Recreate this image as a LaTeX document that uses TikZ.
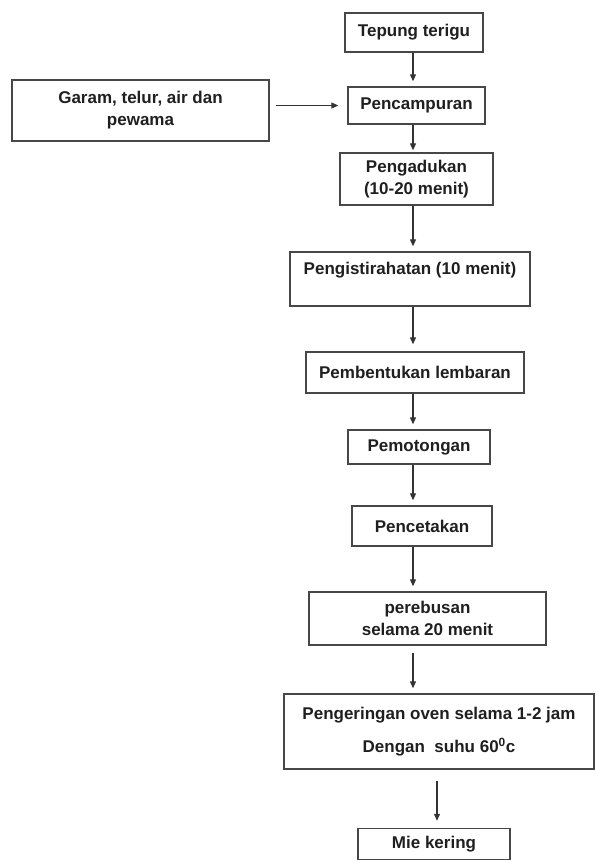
\documentclass[tikz,border=0pt]{standalone}
\usepackage{fontspec}
\setmainfont{Liberation Sans}
\usetikzlibrary{arrows.meta, positioning}

\tikzset{
  box/.style={draw=black!72, line width=1.4pt, align=center, inner sep=0pt,
    font=\fontsize{17}{22}\selectfont\bfseries, text=black!88},
  arr/.style={-{Triangle[length=7pt,width=6pt]}, line width=1.2pt, draw=black!80,
    shorten >=5pt},
}

\begin{document}
\begin{tikzpicture}[x=1pt, y=-1pt]
\useasboundingbox (0,0) rectangle (595,860);
% process boxes
\node[box, minimum width=138, minimum height=39] (tepung) at (414,32.5) {Tepung terigu};
\node[box, minimum width=257, minimum height=61] (garam) at (140.5,110.5) {Garam, telur, air dan\\ pewama};
\node[box, minimum width=137, minimum height=37] (campur) at (416.5,105.5) {Pencampuran};
\node[box, minimum width=153, minimum height=52] (aduk) at (416.5,179) {Pengadukan\\ (10-20 menit)};
\node[box, minimum width=240, minimum height=54] (istirahat) at (410,279) {Pengistirahatan (10 menit)\\ \mbox{}};
\node[box, minimum width=218, minimum height=41] (lembaran) at (415,372.5) {Pembentukan lembaran};
\node[box, minimum width=142, minimum height=34] (potong) at (419,447) {Pemotongan};
\node[box, minimum width=140, minimum height=40] (cetak) at (422,526) {Pencetakan};
\node[box, minimum width=237, minimum height=53] (rebus) at (427.5,618.5) {perebusan\\ selama 20 menit};
\node[box, minimum width=310, minimum height=75] (kering) at (439,731.5) {Pengeringan oven selama 1-2 jam\\[11pt] Dengan\ \ suhu 60\textsuperscript{0}c};
\node[box, minimum width=152, minimum height=31] (mie) at (434,844) {Mie kering};

% arrows
\coordinate (spine) at (413,0);
\coordinate (spineb) at (437,0);
\draw[arr, shorten <=6pt, shorten >=9pt] (garam.east |- campur.west) -- (campur.west);
\draw[arr] (tepung.south -| spine) -- (campur.north -| spine);
\draw[arr, shorten >=2pt] (campur.south -| spine) -- (aduk.north -| spine);
\draw[arr] (aduk.south -| spine) -- (istirahat.north -| spine);
\draw[arr, shorten >=7pt] (istirahat.south -| spine) -- (lembaran.north -| spine);
\draw[arr] (lembaran.south -| spine) -- (potong.north -| spine);
\draw[arr] (potong.south -| spine) -- (cetak.north -| spine);
\draw[arr] (cetak.south -| spine) -- (rebus.north -| spine);
\draw[arr, shorten <=7pt] (rebus.south -| spine) -- (kering.north -| spine);
\draw[arr, shorten <=11pt, shorten >=7pt] (kering.south -| spineb) -- (mie.north -| spineb);
\end{tikzpicture}
\end{document}
